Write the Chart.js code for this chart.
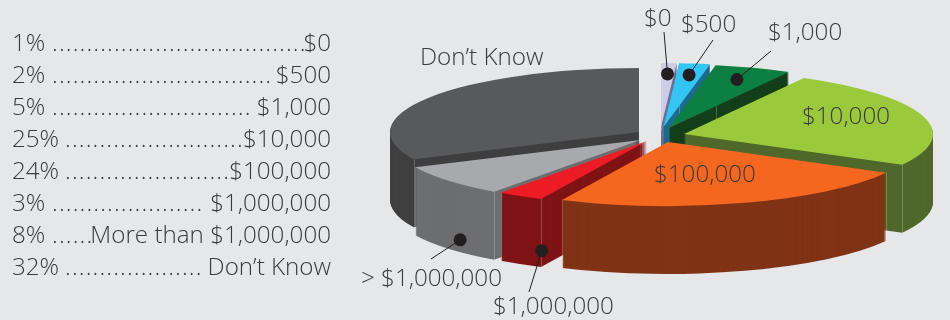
<!DOCTYPE html>
<html>
<head>
<meta charset="utf-8">
<style>
  html, body { margin: 0; padding: 0; background: #e6e7e9; }
  canvas { display: block; }
</style>
<script src="https://cdn.jsdelivr.net/npm/chart.js@4/dist/chart.umd.min.js"></script>
</head>
<body>
<canvas id="pie" width="950" height="320"></canvas>
<script>
// Survey shares, clockwise from twelve o'clock.
const categories = ['$0', '$500', '$1,000', '$10,000', '$100,000', '$1,000,000', 'More than $1,000,000', "Don\u2019t Know"];
const shares = [1, 2, 5, 25, 24, 3, 8, 32];

// Face and side colours of each wedge.
const faceColors = ['#cccce6', '#33c5f4', '#0c8040', '#9aca3c', '#f5671f', '#ed1c24', '#a7a9ac', '#58595b'];
const wallColors = ['#6e7095', '#1d6a8d', '#153f1a', '#50682c', '#803316', '#7f1315', '#6d6e71', '#3f3f40'];

// Where each exploded wedge's tip lands on the page.
const wedgeTips = [[661, 127], [663.5, 127], [669, 128], [684, 134], [668, 142], [647, 141], [640.5, 140], [639, 132]];
const paintOrder = [7, 0, 1, 2, 3, 6, 5, 4];

const RX = 249, RY = 64, DEPTH = 68;
const INK = '#3a3a3c';
const FONT = '300 24.2px "Open Sans", Lato, sans-serif';

// Left-hand key: percentage, first leader dot, leader dot count, answer.
const keyRows = [
  ['1%', 54, 37, '$0'],
  ['2%', 54, 32, '$500'],
  ['5%', 54, 29, '$1,000'],
  ['25%', 67, 26, '$10,000'],
  ['24%', 67, 24, '$100,000'],
  ['3%', 54, 22, '$1,000,000'],
  ['8%', 54, 6, 'More than $1,000,000'],
  ['32%', 67, 20, "Don\u2019t Know"]
];

// Plain labels sitting on or beside the pie.
const plainLabels = [
  ["Don\u2019t Know", 420, 57],
  ['$10,000', 802, 116],
  ['$100,000', 654, 174]
];

// Callouts: slice, radial position of the dot, drop down the wall, line end, text and its spot.
const callouts = [
  { slice: 0, radial: 0.83, drop: 0, lineTo: [664, 32], text: '$0', at: [644, 18] },
  { slice: 1, radial: 0.82, drop: 0, lineTo: [713, 40], text: '$500', at: [681, 24] },
  { slice: 2, radial: 0.805, drop: 0, lineTo: [771, 51], text: '$1,000', at: [768, 32] },
  { slice: 6, radial: 0.94, drop: 61.5, lineTo: [431, 259], text: '> $1,000,000', at: [361, 278] },
  { slice: 5, radial: 0.83, drop: 64, lineTo: [529, 292], text: '$1,000,000', at: [493, 306] }
];

function wedgePath(ctx, arc, tip, drop) {
  ctx.beginPath();
  ctx.moveTo(tip[0], tip[1] + drop);
  ctx.ellipse(tip[0], tip[1] + drop, RX, RY, 0, arc.startAngle, arc.endAngle);
  ctx.closePath();
}

// Extruded, flattened rendering of the pie's arc elements.
const tiltedPie = {
  id: 'tiltedPie',
  beforeDatasetDraw(chart) {
    const ctx = chart.ctx;
    const arcs = chart.getDatasetMeta(0).data;
    paintOrder.forEach(i => {
      const arc = arcs[i], tip = wedgeTips[i];
      // side walls: the wedge outline swept downward
      ctx.fillStyle = wallColors[i];
      for (let d = DEPTH; d >= 1; d--) {
        wedgePath(ctx, arc, tip, d);
        ctx.fill();
      }
      // thin highlight on the outer corners
      ctx.strokeStyle = 'rgba(255,255,255,0.22)';
      ctx.lineWidth = 1;
      [arc.startAngle, arc.endAngle].forEach(a => {
        const x = Math.round(tip[0] + RX * Math.cos(a)) + 0.5;
        const y = tip[1] + RY * Math.sin(a);
        ctx.beginPath();
        ctx.moveTo(x, y);
        ctx.lineTo(x, y + DEPTH);
        ctx.stroke();
      });
      // top face: the library's own arc under a flattening transform
      ctx.save();
      ctx.translate(tip[0], tip[1]);
      ctx.scale(RX / arc.outerRadius, RY / arc.outerRadius);
      ctx.translate(-arc.x, -arc.y);
      arc.draw(ctx);
      ctx.restore();
    });
    return false;
  },
  afterDraw(chart) {
    const ctx = chart.ctx;
    const arcs = chart.getDatasetMeta(0).data;
    ctx.save();
    ctx.font = FONT;
    ctx.textBaseline = 'alphabetic';
    ctx.fillStyle = INK;

    // key
    keyRows.forEach((row, r) => {
      const y = 51 + r * 32;
      ctx.textAlign = 'left';
      ctx.fillText(row[0], 12, y);
      for (let k = 0; k < row[2]; k++) {
        ctx.fillText('.', row[1] - 2 + k * 6.88, y);
      }
      ctx.textAlign = 'right';
      ctx.fillText(row[3], 331, y);
    });

    // labels
    ctx.textAlign = 'left';
    plainLabels.forEach(l => ctx.fillText(l[0], l[1], l[2] + 8));

    // callouts
    callouts.forEach(c => {
      const arc = arcs[c.slice], tip = wedgeTips[c.slice];
      const mid = (arc.startAngle + arc.endAngle) / 2;
      const x = tip[0] + RX * c.radial * Math.cos(mid);
      const y = tip[1] + RY * c.radial * Math.sin(mid) + c.drop;
      ctx.strokeStyle = '#231f20';
      ctx.lineWidth = 1;
      ctx.beginPath();
      ctx.moveTo(x, y);
      ctx.lineTo(c.lineTo[0], c.lineTo[1]);
      ctx.stroke();
      ctx.fillStyle = '#231f20';
      ctx.beginPath();
      ctx.arc(x, y, 6.5, 0, Math.PI * 2);
      ctx.fill();
      ctx.fillStyle = INK;
      ctx.fillText(c.text, c.at[0], c.at[1] + 8);
    });
    ctx.restore();
  }
};

new Chart(document.getElementById('pie'), {
  type: 'pie',
  data: {
    labels: categories,
    datasets: [{ data: shares, backgroundColor: faceColors, borderWidth: 0 }]
  },
  options: {
    responsive: false,
    animation: false,
    rotation: 0,
    plugins: { legend: { display: false }, tooltip: { enabled: false } }
  },
  plugins: [tiltedPie]
});
</script>
</body>
</html>
